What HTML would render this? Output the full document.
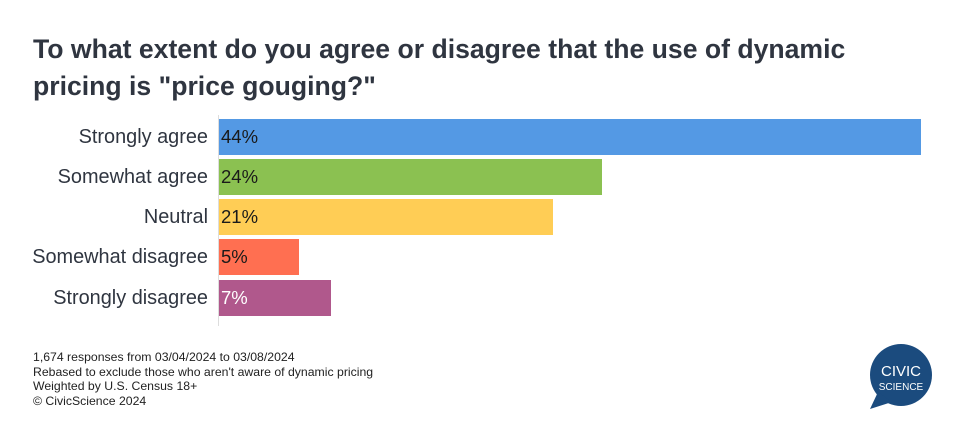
<!DOCTYPE html>
<html><head><meta charset="utf-8"><style>
body{margin:0;width:966px;height:435px;background:#fff;font-family:"Liberation Sans",Arial,sans-serif;position:relative;overflow:hidden}
.t{position:absolute;left:33px;top:31px;font-size:26.6px;font-weight:bold;color:#2f3540;line-height:37px;white-space:nowrap}
.l{position:absolute;right:758px;font-size:19.9px;color:#2f3540;line-height:36px;white-space:nowrap}
.b{position:absolute;left:219px;height:36px;font-size:18.5px;line-height:36px;color:#1a1a1a;padding-left:2px;box-sizing:border-box}
.f{position:absolute;left:33px;top:350px;font-size:12.25px;line-height:14.6px;color:#222}
</style></head><body>
<div class="t">To what extent do you agree or disagree that the use of dynamic<br>pricing is "price gouging?"</div>
<div style="position:absolute;left:218px;top:115px;width:1px;height:211px;background:#ddd"></div>
<div class="l" style="top:119px">Strongly agree</div>
<div class="l" style="top:159px">Somewhat agree</div>
<div class="l" style="top:199px">Neutral</div>
<div class="l" style="top:239px">Somewhat disagree</div>
<div class="l" style="top:280px">Strongly disagree</div>
<div class="b" style="top:119px;width:702px;background:#5499e4">44%</div>
<div class="b" style="top:159px;width:383px;background:#8bc151">24%</div>
<div class="b" style="top:199px;width:334px;background:#ffcd55">21%</div>
<div class="b" style="top:239px;width:80px;background:#ff6f51">5%</div>
<div class="b" style="top:280px;width:112px;background:#b0588c;color:#fff">7%</div>
<div class="f">1,674 responses from 03/04/2024 to 03/08/2024<br>Rebased to exclude those who aren't aware of dynamic pricing<br>Weighted by U.S. Census 18+<br>© CivicScience 2024</div>
<svg style="position:absolute;left:860px;top:340px" width="80" height="75">
<circle cx="41" cy="35" r="31" fill="#1b4b7e"/>
<path d="M18 52 L10 69 L32 62 Z" fill="#1b4b7e"/>
<text x="41" y="36" text-anchor="middle" font-family="Liberation Sans" font-size="15" fill="#fff">CIVIC</text>
<text x="41" y="50" text-anchor="middle" font-family="Liberation Sans" font-size="10" fill="#fff">SCIENCE</text>
</svg>
</body></html>
